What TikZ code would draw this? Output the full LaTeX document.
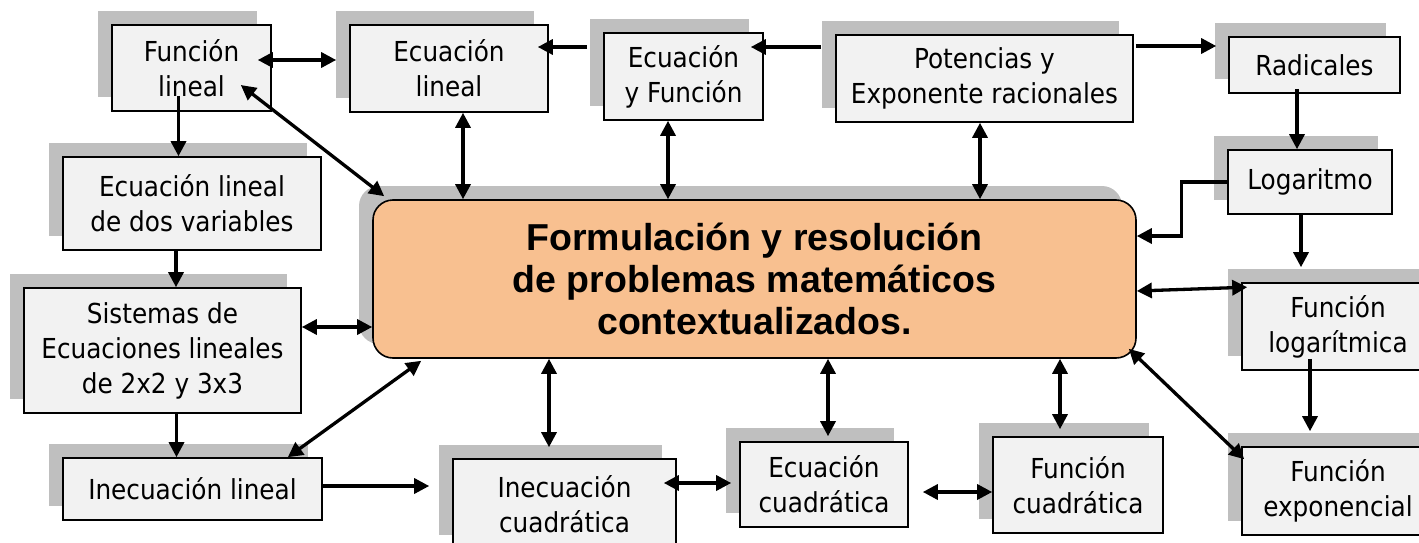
\documentclass[tikz,border=0pt]{standalone}
\usepackage{fontspec}
\setmainfont{DejaVu Sans Condensed}
\newfontfamily\titlefont{Liberation Sans}
\usetikzlibrary{arrows.meta,shadows}
\definecolor{boxgray}{RGB}{242,242,242}
\definecolor{shadowgray}{RGB}{191,191,191}
\definecolor{peach}{RGB}{248,192,144}

\begin{document}
\begin{tikzpicture}[x=1pt, y=-1pt, >={Triangle[length=15pt,width=15pt]},
    every node/.style={inner sep=0pt, align=center, font=\fontsize{27.5}{35}\selectfont},
    box/.style={draw, line width=1.6pt, fill=boxgray,
        general shadow={fill=shadowgray, shadow xshift=-14pt, shadow yshift=14pt}},
    link/.style={line width=3.3pt}]
\useasboundingbox (0,0) rectangle (1419,543);

    % central box
    \node[box, fill=peach, rounded corners=20pt, minimum width=763pt, minimum height=158pt,
        font=\titlefont\bfseries\fontsize{37.5}{42}\selectfont] (main) at (754.5,279)
        {Formulación y resolución\\de problemas matemáticos\\contextualizados.};

    % topics
    \node[box, minimum width=159pt, minimum height=86pt] (fl) at (191.5,68) {Función\\lineal};
    \node[box, minimum width=198pt, minimum height=87pt] (el) at (449,68.5) {Ecuación\\lineal};
    \node[box, minimum width=159pt, minimum height=87pt] (ef) at (683.5,76.5) {Ecuación\\y Función};
    \node[box, minimum width=297pt, minimum height=87pt] (pot) at (984.5,78.5) {Potencias y\\Exponente racionales};
    \node[box, minimum width=171pt, minimum height=56pt] (rad) at (1314.5,65) {Radicales};
    \node[box, minimum width=164pt, minimum height=64pt] (loga) at (1310,182) {Logaritmo};
    \node[box, minimum width=192pt, minimum height=87pt] (flog) at (1338,326.5) {Función\\logarítmica};
    \node[box, minimum width=192pt, minimum height=88pt] (fexp) at (1338,491) {Función\\exponencial};
    \node[box, minimum width=258pt, minimum height=93pt] (eld) at (192,203.5) {Ecuación lineal\\de dos variables};
    \node[box, minimum width=277pt, minimum height=125pt] (sis) at (162.5,350.5) {Sistemas de\\Ecuaciones lineales\\de 2x2 y 3x3};
    \node[box, minimum width=259pt, minimum height=62pt] (inl) at (192.5,489) {Inecuación lineal};
    \node[box, minimum width=223pt, minimum height=90pt] (inc) at (564.5,504) {Inecuación\\cuadrática};
    \node[box, minimum width=168pt, minimum height=85pt] (ecc) at (824,484.5) {Ecuación\\cuadrática};
    \node[box, minimum width=170pt, minimum height=96pt] (fcc) at (1078,485) {Función\\cuadrática};

    % top row
    \draw[link,<->] ([shift={(-14,-8)}]fl.east) -- ([shift={(-13,-8)}]fl.east -| el.west);
    \draw[link,->] ([shift={(-16,-29.5)}]ef.west) -- ([shift={(-11,-29.5)}]ef.west -| el.east);
    \draw[link,->] ([shift={(-14,-31.5)}]pot.west) -- ([shift={(-13,-31.5)}]pot.west -| ef.east);
    \draw[link,->] ([shift={(2,-32.5)}]pot.east) -- ([shift={(-12,-32.5)}]pot.east -| rad.west);
    \foreach \n/\dx in {el/14, ef/-15.5, pot/-4.5}
        \draw[link,<->] ([xshift=\dx pt]\n.south) -- ([xshift=\dx pt]\n.south |- main.north);

    % right column
    \draw[link,->] ([shift={(-17.5,-5)}]rad.south) -- ([xshift=-17.5pt]rad.south |- loga.north);
    \draw[link,->] ([xshift=-9pt]loga.south) -- ([shift={(-9,-15)}]loga.south |- flog.north);
    \draw[link,->] ([shift={(-28,-12)}]flog.south) -- ([shift={(-28,-15)}]flog.south |- fexp.north);
    \draw[link,->] (loga.west) -- ++(-46,0) |- ([shift={(0,-43)}]main.east);
    \draw[link,<->] ([shift={(0,12)}]main.east) -- ([shift={(6,5)}]flog.north west);
    \draw[link,<->] ([shift={(-8,-10)}]main.south east) -- ([shift={(3,13)}]fexp.north west);

    % bottom row
    \draw[link,<->] ([xshift=-18pt]fcc.north |- main.south) -- ([shift={(-18,-7)}]fcc.north);
    \draw[link,<->] ([xshift=4pt]ecc.north |- main.south) -- ([shift={(4,-5)}]ecc.north);
    \draw[link,<->] ([xshift=-15.5pt]inc.north |- main.south) -- ([shift={(-15.5,-11)}]inc.north);
    \draw[link,<->] ([shift={(-13,-21)}]inc.east) -- ([shift={(-8,-21)}]inc.east -| ecc.west);
    \draw[link,<->] ([shift={(14,7.5)}]ecc.east) -- ([shift={(0,7.5)}]ecc.east -| fcc.west);
    \draw[link,->] ([shift={(0,-3)}]inl.east) -- ([shift={(-23,-3)}]inl.east -| inc.west);
    \draw[link,<->] ([shift={(-35,0)}]inl.north east) -- ([shift={(49,2)}]main.south west);

    % left column
    \draw[link,->] ([shift={(-13,-16)}]fl.south) -- ([xshift=-13pt]fl.south |- eld.north);
    \draw[link,->] ([xshift=-16pt]eld.south) -- ([xshift=-16pt]eld.south |- sis.north);
    \draw[link,->] ([xshift=14pt]sis.south) -- ([xshift=14pt]sis.south |- inl.north);
    \draw[link,<->] ([shift={(0,-23.5)}]sis.east) -- ([shift={(0,-23.5)}]sis.east -| main.west);
    \draw[link,<->] ([shift={(-31,17)}]fl.east) -- ([shift={(12,-3)}]main.north west);
\end{tikzpicture}
\end{document}
